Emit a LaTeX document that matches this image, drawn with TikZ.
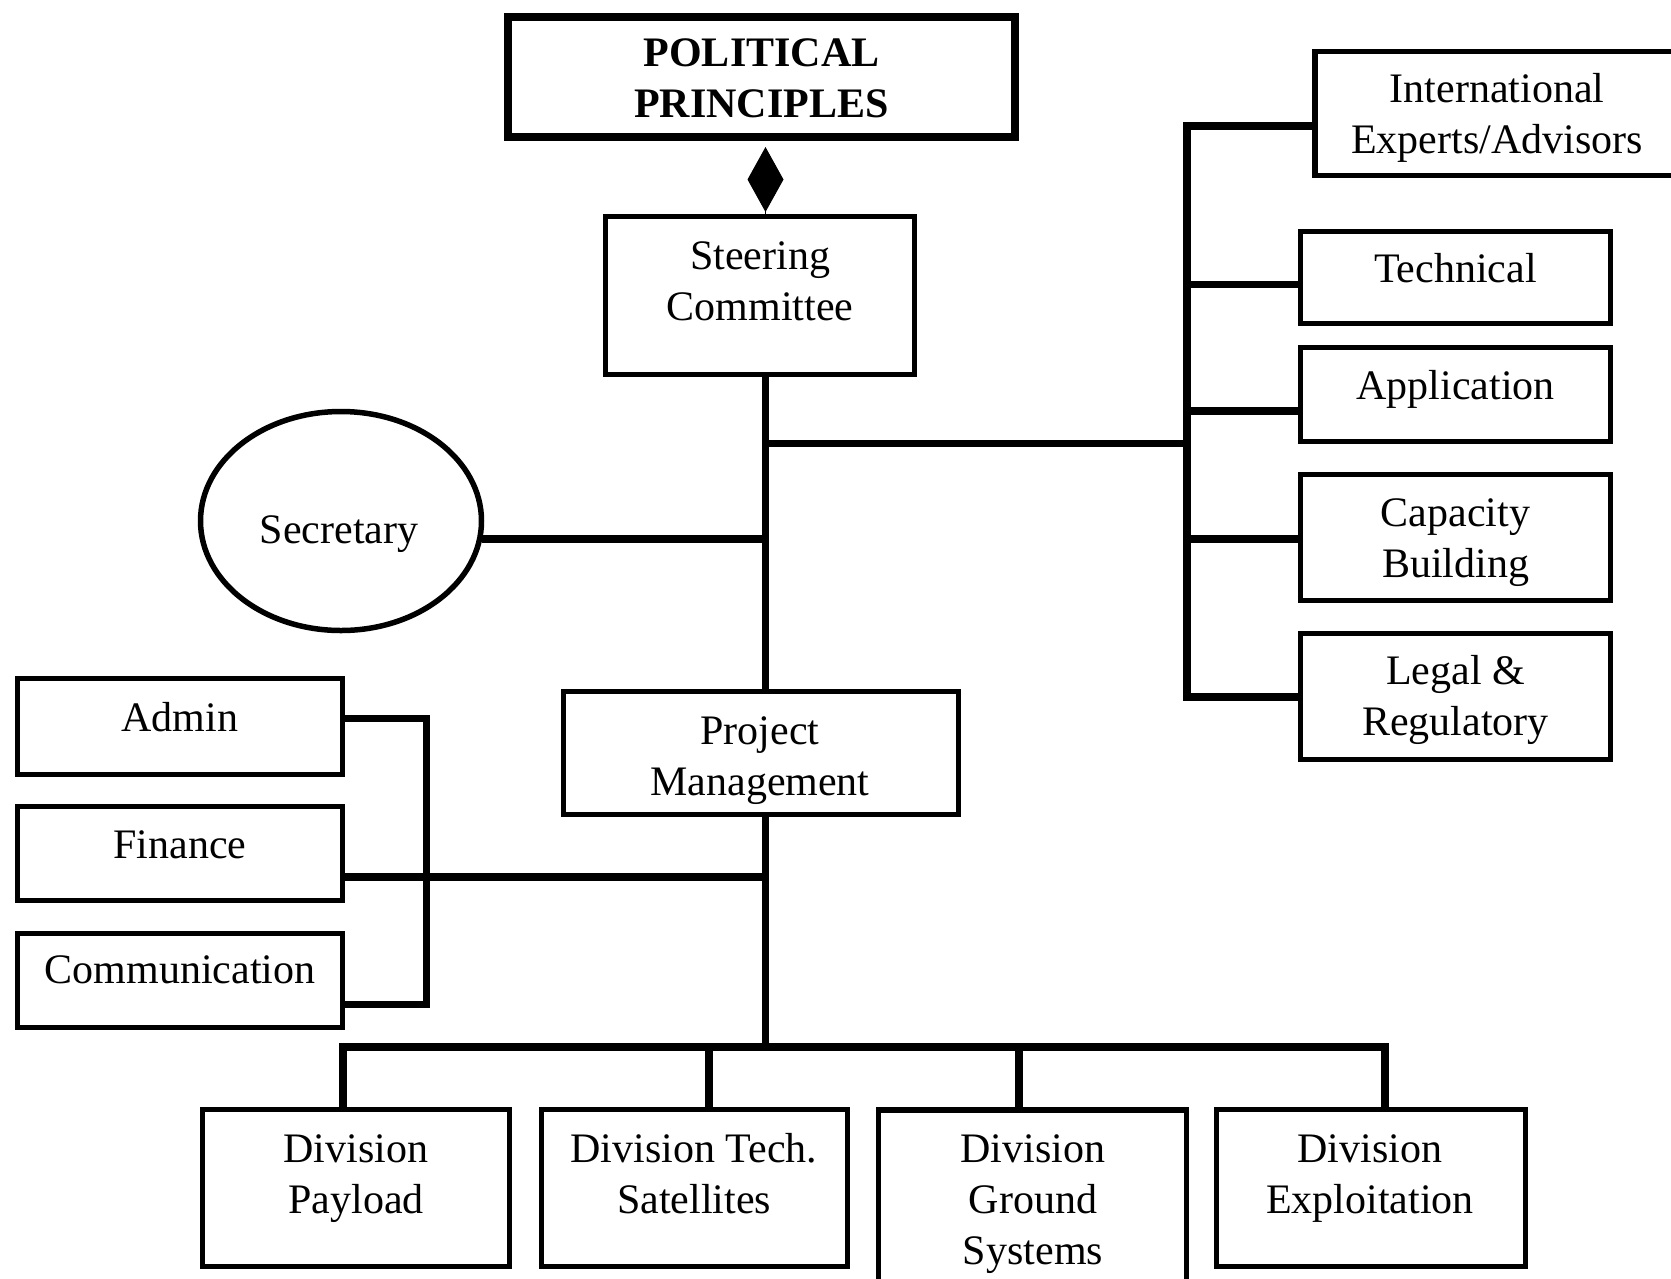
\documentclass[tikz,border=0pt]{standalone}
\usepackage{fontspec}
\setmainfont{Liberation Serif}
\usetikzlibrary{arrows.meta,shapes.geometric}
\begin{document}
\begin{tikzpicture}[x=1pt,y=-1pt,
  box/.style={draw, line width=5.5pt, rectangle, inner sep=0pt},
  conn/.style={line width=7.5pt},
  lbl/.style={font=\fontsize{42}{51}\selectfont, align=center, anchor=base, inner sep=0pt}]
\useasboundingbox (0,0) rectangle (1671,1278);

% boxes
\node[box, line width=8.5pt, minimum width=507pt, minimum height=120pt] (pp) at (761.5,77) {};
\node[box, minimum width=309pt, minimum height=158pt] (sc) at (760,295.5) {};
\node[box, minimum width=385pt, minimum height=124pt] (intl) at (1507.5,113.5) {};
\node[box, minimum width=310pt, minimum height=92pt] (tech) at (1455.5,277.5) {};
\node[box, minimum width=310pt, minimum height=94pt] (app) at (1455.5,394.5) {};
\node[box, minimum width=310pt, minimum height=126pt] (cap) at (1455.5,537.5) {};
\node[box, minimum width=310pt, minimum height=126pt] (legal) at (1455.5,696.5) {};
\node[draw, ellipse, line width=5.5pt, inner sep=0pt, minimum width=281pt, minimum height=219pt] (sec) at (341,521) {};
\node[box, minimum width=395pt, minimum height=123pt] (pm) at (761,753) {};
\node[box, minimum width=325pt, minimum height=96pt] (admin) at (180,726.5) {};
\node[box, minimum width=325pt, minimum height=94pt] (fin) at (180,853.5) {};
\node[box, minimum width=325pt, minimum height=94pt] (comm) at (180,980.5) {};
\node[box, minimum width=307pt, minimum height=157pt] (pay) at (356,1188) {};
\node[box, minimum width=306pt, minimum height=157pt] (tsat) at (694.5,1188) {};
\node[box, minimum width=308pt, minimum height=190pt] (gnd) at (1032.5,1204.75) {};
\node[box, minimum width=309pt, minimum height=157pt] (expl) at (1371,1188) {};

% texts (anchor base = baseline of the last line)
\node[lbl, font=\fontsize{42}{51}\selectfont\bfseries] (ppT) at (761.5,117) {POLITICAL\\PRINCIPLES};
\node[lbl] (scT) at (760,320) {Steering\\Committee};
\node[lbl] (intlT) at (1497,153) {International\\Experts/Advisors};
\node[lbl] (techT) at (1455.5,282) {Technical};
\node[lbl] (appT) at (1455.5,399) {Application};
\node[lbl] (capT) at (1455.5,577) {Capacity\\Building};
\node[lbl] (legalT) at (1455.5,735) {Legal \&\\Regulatory};
\node[lbl] (secT) at (339,543) {Secretary};
\node[lbl] (pmT) at (760,795) {Project\\Management};
\node[lbl] (adminT) at (180,731) {Admin};
\node[lbl] (finT) at (180,858) {Finance};
\node[lbl] (commT) at (180,983) {Communication};
\node[lbl] (payT) at (356,1213) {Division\\Payload};
\node[lbl] (tsatT) at (694,1213) {Division Tech.\\Satellites};
\node[lbl] (gndT) at (1033,1264) {Division\\Ground\\Systems};
\node[lbl] (explT) at (1370,1213) {Division\\Exploitation};

% helper coordinates
\coordinate (spine) at (765.5,0);
\coordinate (rbus) at (1187,0);
\coordinate (lbus) at (426.5,0);
\coordinate (dtop) at (765.5,147);

% diamond link
\draw[line width=1pt, -{Diamond[length=65pt,width=36pt]}] (sc.north -| dtop) -- (dtop);

% spine
\draw[conn] (sc.south -| spine) -- (pm.north -| spine);
\draw[conn] (spine |- 0,443.5) -- (rbus |- 0,443.5);
\draw[conn] ([xshift=-2pt]sec.east |- 0,539) -- (spine |- 0,539);

% right bus
\draw[conn] (intl.west |- 0,126) -- (rbus |- 0,126) -- (rbus |- 0,697) -- (legal.west |- 0,697);
\draw[conn] (rbus |- 0,284.5) -- (tech.west |- 0,284.5);
\draw[conn] (rbus |- 0,411) -- (app.west |- 0,411);
\draw[conn] (rbus |- 0,539) -- (cap.west |- 0,539);

% left bracket
\draw[conn] (admin.east |- 0,718.5) -- (lbus |- 0,718.5) -- (lbus |- 0,1004.5) -- (comm.east |- 0,1004.5);
\draw[conn] (fin.east |- 0,877) -- (spine |- 0,877);

% lower spine and divisions
\draw[conn] (pm.south -| spine) -- (spine |- 0,1047);
\draw[conn, line width=8pt] (pay.north -| 343,0) -- (343,1047) -- (1385,1047) -- (expl.north -| 1385,0);
\draw[conn] (tsat.north -| 709,0) -- (709,1047);
\draw[conn] (gnd.north -| 1019,0) -- (1019,1047);
\end{tikzpicture}
\end{document}
